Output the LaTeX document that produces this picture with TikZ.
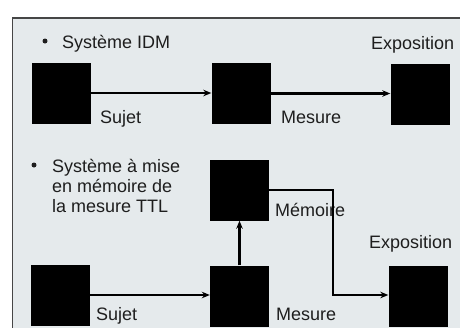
\documentclass[tikz,border=0pt]{standalone}
\usepackage{fontspec}
\setmainfont{Liberation Sans}
\usetikzlibrary{arrows.meta,positioning}
\definecolor{FondCadre}{RGB}{229,234,236}
\definecolor{TraitCadre}{RGB}{70,70,70}
\definecolor{TexteGris}{RGB}{30,30,30}
\tikzset{
  boite/.style={fill=black, draw=none, minimum width=59pt, minimum height=61pt, inner sep=0pt},
  fleche/.style={-{Stealth[length=8pt,width=6.5pt]}, line width=2.2pt, black},
  etiquette/.style={font=\fontsize{18}{20}\selectfont, text=TexteGris, inner sep=0pt, anchor=base west},
  titre/.style={font=\fontsize{18}{20}\selectfont, text=TexteGris, inner sep=0pt, align=left},
  puce/.style={circle, fill=TexteGris, minimum size=5pt, inner sep=0pt},
}
\begin{document}
\begin{tikzpicture}[x=1pt,y=-1pt]
  \clip (0,0) rectangle (460,327);
  \fill[white] (0,0) rectangle (460,327);

  % cadre
  \fill[FondCadre] (12.5,18) rectangle (465,335);
  \draw[TraitCadre, line width=1.5pt] (12.5,335) -- (12.5,18) -- (465,18);

  % Système IDM
  \node[puce] (p1) at (45,41) {};
  \node[titre, anchor=base west] (t1) at (62,48) {Système IDM};
  \node[etiquette] (e1) at (371,49) {Exposition};

  \node[boite] (b1) at (61.5,93) {};
  \node[boite] (b2) at (241,93.5) {};
  \node[boite] (b3) at (420,94) {};

  \draw[fleche] (b1.east) -- (b2.west |- b1.east);
  \draw[fleche] (b2.east) -- (b3.west |- b2.east);

  \node[etiquette] (s1) at (100,123) {Sujet};
  \node[etiquette] (m1) at (281,123) {Mesure};

  % Système à mise en mémoire
  \node[puce] (p2) at (34,165) {};
  \node[titre, anchor=north west] (t2) at (52,159.5) {Système à mise\\en mémoire de\\la mesure TTL};

  \node[boite] (mem) at (239.5,190) {};
  \node[etiquette] (me) at (275,216) {Mémoire};
  \node[etiquette] (e2) at (369,248) {Exposition};

  \node[boite] (b4) at (60.5,295) {};
  \node[boite] (b5) at (239.5,296) {};
  \node[boite] (b6) at (418,296) {};

  \coordinate (coude) at (333,295);
  \draw[fleche] (b4.east) -- (b5.west |- b4.east);
  \draw[fleche] (b5.north) -- (mem.south);
  \draw[fleche] (mem.east) -| (coude) -- (b6.west |- coude);

  \node[etiquette] (s2) at (96,320) {Sujet};
  \node[etiquette] (m2) at (276,320) {Mesure};
\end{tikzpicture}
\end{document}
